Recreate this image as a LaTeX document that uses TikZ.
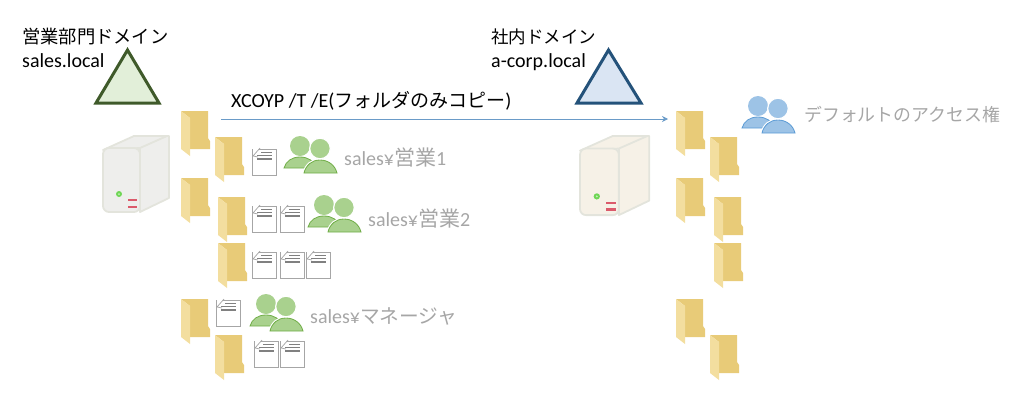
\documentclass[tikz,border=0pt]{standalone}
\usepackage{fontspec}
\setmainfont{Carlito}
\newfontfamily\jpfont{Noto Sans CJK JP}
\newcommand{\jpsize}[2]{{\jpfont\fontsize{#1}{24}\selectfont #2}}
\usetikzlibrary{positioning,arrows.meta}
\definecolor{folderdark}{HTML}{E8CB78}
\definecolor{folderlight}{HTML}{F3DE9F}
\definecolor{srvgrey}{HTML}{EEEEEC}
\definecolor{srvcream}{HTML}{F6F1E7}
\definecolor{srvedge}{HTML}{E3E4DC}
\definecolor{srvred}{HTML}{DB5A6B}
\definecolor{srvgreen}{HTML}{6FD655}
\definecolor{textgrey}{HTML}{A6A6A6}
\definecolor{triGreen}{HTML}{3F5A2A}
\definecolor{triGreenFill}{HTML}{E2EFD9}
\definecolor{triBlue}{HTML}{24527A}
\definecolor{triBlueFill}{HTML}{DAE5F3}
\definecolor{userGreen}{HTML}{A9D18E}
\definecolor{userGreenEdge}{HTML}{70AD47}
\definecolor{userBlue}{HTML}{9DC3E6}
\definecolor{userBlueEdge}{HTML}{5B9BD5}
\definecolor{arrowBlue}{HTML}{6A9BC8}
\tikzstyle{dname}=[anchor=base west, inner sep=0pt, font=\fontsize{20}{24}\selectfont, text=black]
\tikzstyle{glabel}=[anchor=base west, inner sep=0pt, font=\fontsize{20}{24}\selectfont, text=textgrey]
\tikzstyle{dtri}=[line width=3pt, miter limit=10]
\tikzstyle{xarrow}=[-{Stealth[length=6pt,width=6pt]}, color=arrowBlue, line width=0.8pt]
\tikzset{
  pics/folder/.style={code={
    \fill[folderdark] (0,0) -- (27,0) -- (27,27) -- (29,30) -- (29,38) -- (9,38) -- (9,7) -- cycle;
    \fill[folderlight] (0,0) -- (9,7) -- (9,45) -- (0,38) -- cycle;
  }},
  pics/doc/.style={code={
    \draw[fill=white, draw=black!35, line width=0.8pt] (0,0) rectangle (24,26);
    \fill[white] (1,-1) rectangle (7,6);
    \draw[draw=black!35, line width=0.7pt] (8,-1) -- (1,7) -- (6,8);
    \fill[black!50] (9,3) rectangle (20,4.2);
    \fill[black!50] (5,6) rectangle (20,7.4);
    \fill[black!50] (5,9.4) rectangle (20,10.8);
  }},
  pics/people/.style args={#1 and #2}{code={
    \fill[#1] (16,10) circle (10);
    \draw[fill=#1, draw=#2, line width=0.8pt] (0,32) .. controls (2,25) and (8,21) .. (16,21)
      .. controls (24,21) and (30,25) .. (33,32) -- cycle;
    \draw[draw=white, line width=3pt] (20,37) .. controls (22,29) and (28,24) .. (36,24)
      .. controls (44,24) and (51,29) .. (53,37);
    \draw[fill=#1, draw=#2, line width=0.8pt] (20,37) .. controls (22,29) and (28,24) .. (36,24)
      .. controls (44,24) and (51,29) .. (53,37) -- cycle;
    \fill[#1, draw=white, line width=1.2pt] (36,12.5) circle (10.3);
  }},
  pics/server/.style={code={
    \draw[fill=#1, draw=srvedge, line width=1.8pt, line join=round]
      (37,13) -- (31,2) -- (66,2) -- (66,64) -- (37,78) -- cycle;
    \draw[fill=#1, draw=srvedge, line width=1.8pt, line join=round] (0,16) -- (31,2) -- (64,2) -- (37,14) -- cycle;
    \draw[fill=#1, draw=srvedge, line width=1.8pt, rounded corners=6pt] (0,14) rectangle (37,78);
    \fill[srvgreen] (16,60) circle (3);
    \fill[srvgreen!40!white] (16,60) circle (1);
    \fill[srvred] (25,65) rectangle (34,67.4);
    \fill[srvred] (25,71.5) rectangle (34,73.9);
  }}
}
\begin{document}
\begin{tikzpicture}[x=1pt,y=-1pt]
\useasboundingbox (0,0) rectangle (1026,405);
% domains
\draw[dtri, draw=triGreen, fill=triGreenFill] (127.5,50) -- (159,103) -- (96,103) -- cycle;
\draw[dtri, draw=triBlue, fill=triBlueFill] (608.5,50) -- (641,103) -- (577,103) -- cycle;
\node (SalesTitle) [dname] at (22,43) {\jpsize{18.3}{営業部門ドメイン}};
\node (SalesName) [dname] at (22,67) {sales.local};
\node (CorpTitle) [dname] at (491,43) {\jpsize{17.5}{社内ドメイン}};
\node (CorpName) [dname] at (491,67) {a-corp.local};
% copy arrow
\node (CopyCmd) [dname] at (231,107) {XCOYP /T /E(\jpsize{19}{フォルダのみコピー})};
\coordinate (ArrowFrom) at (221,119);
\coordinate (ArrowTo) at (668,119);
\draw[xarrow] (ArrowFrom) -- (ArrowTo);
% servers
\pic at (103,134) {server=srvgrey};
\pic[xscale=1.05,yscale=1.04] at (580,134) {server=srvcream};
% folders
\foreach \fx/\fy in {181/111,215/137,181/178,218/197,218/243,181/299,215/335}
  \pic at (\fx,\fy) {folder};
\foreach \fx/\fy in {676/111,710/137,676/178,714/197,714/243,676/299,710/335}
  \pic at (\fx,\fy) {folder};
% documents
\foreach \dx/\dy in {252/149,252/206,280/206,252/252,280/252,306/252,216/300,254/341,280/341}
  \pic at (\dx,\dy) {doc};
% groups
\pic at (284,136) {people={userGreen and userGreenEdge}};
\pic at (308,195) {people={userGreen and userGreenEdge}};
\pic at (250,294) {people={userGreen and userGreenEdge}};
\pic at (742,96) {people={userBlue and userBlueEdge}};
\node (GroupOne) [glabel] at (344,165) {sales¥\jpsize{21}{営業}1};
\node (GroupTwo) [glabel] at (368,226) {sales¥\jpsize{21}{営業}2};
\node (GroupMgr) [glabel] at (310,323) {sales¥\jpsize{19.7}{マネージャ}};
\node (DefaultAcl) [glabel] at (804,121) {\jpsize{17.9}{デフォルトのアクセス権}};
\end{tikzpicture}
\end{document}
